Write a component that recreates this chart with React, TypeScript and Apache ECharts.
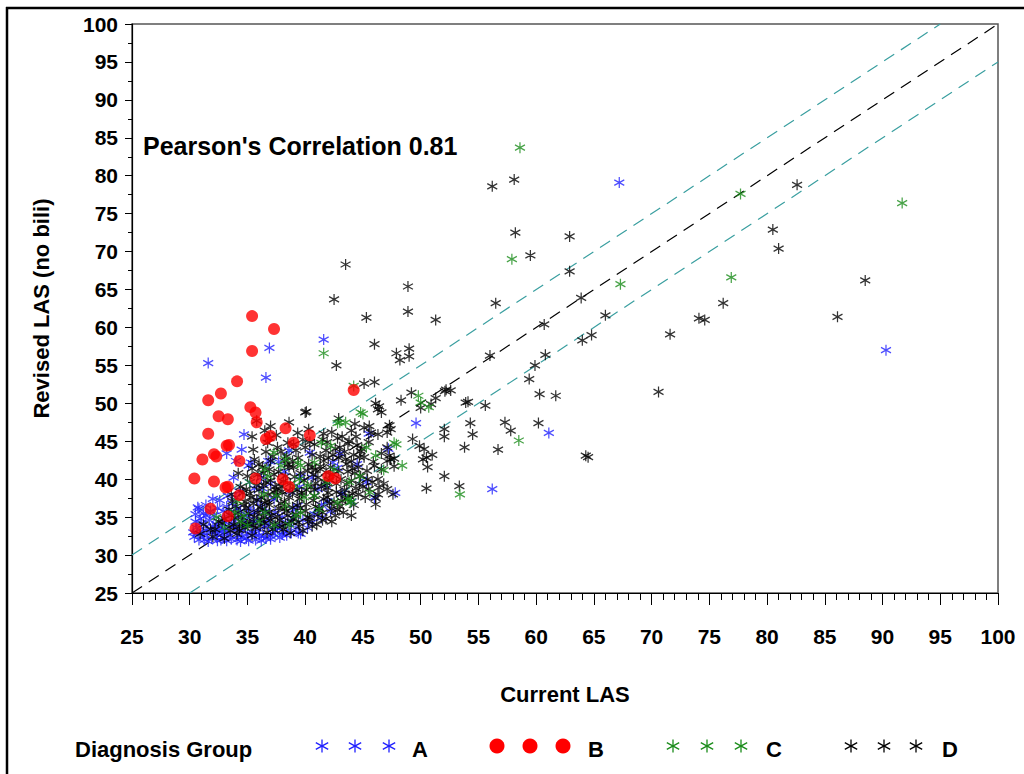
import React, { useEffect, useRef } from 'react';
import * as echarts from 'echarts';

const groupNames = ['A', 'B', 'C', 'D'];
const groupColors = ['#1f1fff', '#ff0000', '#1a8c1a', '#000000'];
const legendTitle = 'Diagnosis Group';
const xTitle = 'Current LAS';
const yTitle = 'Revised LAS (no bili)';
const pearson = 0.81;

const refDiag = [[25, 25], [100, 100]];
const refUpper = [[25, 30], [95, 100]];
const refLower = [[30, 25], [100, 95]];

const groupA: number[][] = [
  [31.6, 55.3], [36.9, 57.3], [36.6, 53.4], [41.6, 58.4], [67.2, 79.1], [90.3, 57.0], [61.1, 46.1], [56.2, 38.7],
  [49.6, 47.4], [45.5, 46.0], [34.7, 45.9], [34.5, 43.9], [33.2, 43.4], [40.4, 43.5], [36.8, 42.4], [37.7, 42.3],
  [44.5, 42.0], [42.8, 41.5], [41.8, 39.2], [40.6, 40.2], [39.5, 39.0], [43.2, 38.1], [39.0, 36.0], [41.4, 36.6],
  [38.2, 41.0], [36.2, 40.2], [35.6, 38.8], [37.3, 37.4], [30.8, 36.1], [31.4, 36.6], [32.6, 37.2], [34.0, 37.6],
  [33.2, 36.4], [35.2, 36.2], [36.6, 35.8], [38.0, 35.0], [39.8, 34.6], [40.8, 35.4], [42.2, 35.8], [44.0, 37.0],
  [45.3, 39.6], [47.8, 38.2], [46.0, 37.6], [47.2, 44.0], [43.0, 43.4], [38.6, 43.8], [35.1, 41.8], [33.8, 40.2],
  [34.0, 42.4], [35.3, 42.2], [37.0, 42.4], [42.4, 42.2], [41.9, 37.1], [39.35, 36.5], [39.6, 40.4], [41.1, 38.7],
  [30.7, 36.3], [32.0, 37.4], [33.3, 37.8],
  [30.4, 32.4], [30.8, 32.0], [31.2, 32.6], [31.5, 33.2], [31.9, 32.2], [32.3, 32.8], [32.6, 33.6], [32.9, 32.4],
  [33.3, 33.0], [33.6, 32.1], [33.9, 33.8], [34.2, 32.6], [34.6, 33.3], [34.9, 32.2], [35.3, 34.0], [35.6, 32.8],
  [36.0, 33.4], [36.4, 32.5], [36.8, 33.9], [37.2, 32.9], [37.6, 33.5], [38.0, 32.7], [30.6, 33.6], [31.0, 34.2],
  [31.7, 34.6], [32.1, 35.2], [32.8, 34.6], [33.4, 35.4], [34.0, 34.8], [34.4, 35.8], [35.0, 35.2], [35.8, 34.6],
  [36.2, 36.4], [36.9, 34.8], [37.4, 35.6], [38.5, 34.2], [39.2, 33.6], [30.3, 33.0], [31.3, 32.0], [32.0, 33.8],
  [33.0, 33.4], [34.8, 34.0], [35.4, 33.0], [36.6, 32.2], [37.8, 32.3], [38.8, 33.0], [39.6, 32.8], [40.2, 33.6],
  [31.8, 35.8], [33.7, 36.8], [35.9, 37.2], [34.3, 38.4], [36.3, 38.8], [35.2, 39.6], [37.0, 39.4], [38.7, 38.4],
  [33.2, 31.9], [34.4, 31.8], [35.7, 32.0], [32.4, 31.9], [30.9, 34.8], [31.6, 31.8], [32.7, 32.0], [34.1, 32.0],
  [35.1, 31.9], [36.2, 31.9], [37.0, 32.1], [31.1, 33.0], [32.4, 33.2], [33.6, 34.2], [34.6, 34.6], [35.6, 35.6],
  [36.4, 34.4], [37.8, 34.0], [38.4, 32.6], [30.5, 34.4], [31.4, 35.2], [32.9, 35.8], [34.1, 36.2],
  [30.7, 32.9], [31.4, 33.8], [31.9, 33.0], [32.3, 34.0], [32.8, 33.1], [33.1, 34.3], [33.5, 32.6], [34.0, 33.4],
  [34.5, 32.3], [35.0, 32.9], [35.5, 34.4], [36.0, 32.6], [36.5, 33.7], [37.0, 32.5], [37.4, 33.2], [38.2, 33.1],
  [38.9, 34.9], [39.4, 32.9], [40.6, 34.3], [41.4, 34.9], [31.2, 35.5], [32.4, 36.2], [30.5, 35.4]
];

const groupB: number[][] = [
  [35.4, 61.5], [37.3, 59.8], [35.4, 56.9], [34.1, 52.9], [32.7, 51.3], [31.6, 50.4], [35.25, 49.5], [35.7, 48.8],
  [32.5, 48.3], [33.3, 47.9], [35.8, 47.5], [31.6, 46.0], [33.2, 44.4], [33.4, 44.5], [32.1, 43.3], [32.3, 43.0],
  [31.1, 42.6], [34.3, 42.4], [30.4, 40.1], [32.1, 39.7], [33.1, 38.9], [33.3, 39.0], [34.3, 37.9], [31.8, 36.1],
  [33.3, 35.1], [30.5, 33.5], [36.6, 45.3], [37.0, 45.7], [38.3, 46.7], [40.4, 45.8], [39.0, 44.8], [35.7, 40.1],
  [38.05, 40.0], [38.6, 39.0], [42.0, 40.4], [42.6, 40.1], [44.2, 51.75]
];

const groupC: number[][] = [
  [58.6, 83.7], [57.9, 69.0], [67.3, 65.7], [77.7, 77.6], [76.9, 66.6], [91.7, 76.4], [58.5, 45.1], [53.4, 38.0],
  [44.2, 52.3], [44.8, 48.8], [45.0, 48.6], [48.4, 41.8], [47.9, 44.6], [43.9, 36.9], [41.6, 56.6], [49.8, 51.0],
  [50.0, 50.1], [50.7, 49.5], [43.5, 47.5], [42.8, 47.4], [37.3, 43.5], [36.5, 41.3], [38.3, 42.6], [39.6, 41.8],
  [39.5, 40.0], [39.05, 39.1], [40.8, 42.2], [41.4, 44.8], [42.2, 44.4], [43.0, 47.5], [44.7, 40.4], [43.8, 39.6],
  [44.0, 37.1], [42.8, 36.9], [40.8, 37.8], [39.6, 35.6], [38.3, 36.5], [47.7, 44.8], [46.1, 43.1], [45.6, 38.25],
  [41.9, 39.6], [42.5, 41.3], [36.5, 35.6], [34.7, 35.2], [33.9, 35.6], [37.3, 33.9], [35.0, 33.9], [35.2, 39.6],
  [36.75, 40.4], [37.9, 41.75], [39.35, 42.2], [39.2, 35.2], [32.3, 35.0], [34.15, 37.1], [37.5, 37.8], [39.9, 37.6],
  [43.7, 37.4], [36.0, 34.4], [38.6, 34.0], [41.2, 36.0], [46.8, 41.2], [45.3, 44.2], [33.0, 33.6], [34.4, 34.4],
  [36.4, 38.0], [40.2, 39.2]
];

const groupD: number[][] = [
  [56.2, 78.6], [58.1, 79.5], [58.2, 72.5], [62.9, 72.0], [59.5, 69.5], [62.9, 67.4], [56.5, 63.2], [63.9, 63.9],
  [66.0, 61.6], [60.7, 60.4], [64.8, 59.0], [64.0, 58.3], [56.0, 56.3], [60.8, 56.4], [59.9, 55.0], [59.4, 53.2],
  [60.3, 51.2], [61.7, 51.0], [70.6, 51.5], [71.6, 59.1], [74.1, 61.2], [74.6, 61.0], [76.2, 63.2], [80.5, 72.9],
  [81.0, 70.4], [82.6, 78.8], [86.1, 61.4], [88.5, 66.2], [64.5, 42.9], [64.3, 43.1],
  [43.5, 68.3], [42.5, 63.7], [48.9, 65.4], [48.9, 62.1], [45.3, 61.3], [51.3, 61.0], [46.0, 57.8], [47.9, 56.6],
  [48.2, 55.7], [49.0, 57.2], [49.0, 56.2], [42.7, 55.0],
  [54.1, 50.2], [55.6, 49.7], [52.6, 51.7], [52.1, 51.6], [51.3, 50.7], [54.3, 47.4], [57.3, 47.5], [60.2, 47.4],
  [49.2, 51.4], [50.9, 49.9], [50.0, 49.4], [53.9, 50.1], [52.2, 51.8], [54.5, 45.9], [53.8, 44.2], [53.35, 39.1],
  [56.7, 43.9], [52.05, 46.6], [52.05, 45.6], [52.05, 40.4], [50.5, 38.8], [57.8, 46.4],
  [45.1, 52.6], [46.0, 52.8], [40.1, 48.9], [38.6, 47.5], [42.9, 48.0], [46.1, 50.0], [46.4, 49.6], [46.6, 48.8],
  [46.3, 49.2], [45.1, 46.8], [45.7, 46.15], [46.3, 45.9], [45.55, 47.0], [47.3, 47.1], [47.4, 46.6], [47.1, 46.15],
  [47.1, 44.2], [47.3, 43.1], [47.4, 42.6], [47.1, 42.4], [49.3, 45.3], [48.3, 50.4], [49.9, 44.4], [50.3, 43.95],
  [50.5, 42.85], [50.2, 42.6], [51.0, 43.2],
  [45.35, 41.1], [45.4, 40.0], [44.8, 40.4], [46.3, 40.0], [45.5, 38.7], [46.1, 37.5], [46.1, 36.7], [46.3, 38.0],
  [47.1, 38.7], [47.6, 38.0], [46.4, 38.9], [44.8, 43.7], [45.1, 42.9], [46.0, 41.75], [46.6, 41.3], [47.7, 42.7],
  [35.8, 47.7], [40.0, 48.8], [39.35, 46.1], [37.5, 45.8], [36.75, 44.8],
  [33.8, 34.0], [34.5, 35.0], [35.2, 34.4], [35.9, 35.6], [36.5, 34.2], [37.1, 35.2], [37.8, 34.6], [38.4, 35.8],
  [39.0, 34.8], [39.6, 36.2], [40.2, 35.0], [40.9, 36.4], [41.5, 35.6], [42.1, 36.8], [42.8, 36.0], [43.5, 37.4],
  [44.2, 36.6], [34.0, 36.4], [34.8, 37.0], [35.5, 36.8], [36.2, 37.6], [36.9, 36.6], [37.6, 37.8], [38.2, 37.0],
  [38.9, 38.2], [39.5, 37.4], [40.1, 38.6], [40.8, 37.8], [41.4, 39.0], [42.0, 38.2], [42.7, 39.4], [43.4, 38.6],
  [44.0, 39.8], [44.6, 38.0], [34.4, 39.0], [35.0, 40.4], [35.8, 39.2], [36.4, 40.8], [37.0, 39.8], [37.7, 41.0],
  [38.3, 40.4], [39.0, 41.6], [39.6, 40.8], [40.3, 42.0], [40.9, 41.2], [41.6, 42.4], [42.2, 41.6], [42.9, 42.8],
  [43.6, 42.0], [44.2, 43.2], [43.0, 44.2], [41.8, 43.8], [40.6, 43.2], [39.4, 42.8], [38.2, 42.4], [37.2, 43.0],
  [36.0, 42.0], [35.4, 41.4], [34.2, 40.8], [33.6, 38.0], [33.4, 36.0], [32.2, 33.4], [32.8, 34.2], [33.5, 33.2],
  [34.1, 32.8], [34.8, 33.6], [35.4, 32.6], [36.1, 33.8], [36.7, 33.0], [37.4, 34.0], [38.1, 33.4], [38.8, 34.4],
  [39.5, 33.8], [40.3, 34.4], [41.0, 34.0], [41.8, 34.8], [42.6, 35.2], [43.3, 35.6], [44.5, 44.5], [43.2, 45.6],
  [41.5, 45.2], [42.3, 46.2], [40.3, 46.6], [44.0, 46.4], [43.8, 45.0],
  [34.2, 35.6], [34.9, 36.2], [35.6, 35.0], [36.3, 36.0], [37.0, 34.6], [37.7, 36.2], [38.5, 35.2], [39.3, 36.6],
  [40.0, 35.8], [40.7, 37.2], [41.2, 36.2], [41.9, 37.6], [42.5, 37.0], [43.1, 38.0], [43.8, 37.8], [44.4, 38.8],
  [34.6, 38.2], [35.3, 37.6], [36.0, 38.6], [36.8, 38.0], [37.4, 39.0], [38.0, 38.4], [38.7, 39.4], [39.3, 38.6],
  [39.9, 39.8], [40.5, 39.0], [41.1, 40.2], [41.7, 39.6], [42.4, 40.6], [43.1, 40.0], [43.7, 41.0], [44.3, 40.8],
  [35.6, 42.6], [36.3, 41.6], [37.0, 42.4], [37.9, 43.6], [38.6, 41.6], [39.2, 43.8], [40.0, 44.2], [40.6, 41.6],
  [41.3, 43.0], [42.0, 42.8], [42.6, 44.0], [43.4, 43.6], [44.0, 42.4], [44.6, 41.6], [33.0, 34.8], [33.6, 35.2],
  [32.5, 34.4], [31.8, 33.4], [31.2, 34.0], [30.9, 32.8], [32.0, 32.4], [33.0, 32.2], [34.3, 33.8], [35.0, 34.0],
  [35.7, 33.6], [36.4, 35.0], [37.2, 33.4], [38.0, 33.8], [38.7, 32.9], [39.8, 33.2], [40.6, 33.8], [41.5, 34.6],
  [42.3, 34.4], [43.0, 36.4], [36.6, 39.6], [37.3, 40.6], [38.4, 43.0], [39.8, 45.2], [40.8, 44.6], [41.6, 46.0],
  [42.8, 45.4], [44.4, 45.6], [44.9, 44.0], [45.2, 37.6], [44.0, 35.2], [38.5, 44.8], [37.0, 47.0], [36.5, 46.4],
  [35.4, 45.6], [50.6, 41.6],
  [33.4, 33.7], [33.9, 34.9], [34.3, 33.3], [34.7, 36.6], [35.1, 35.5], [35.5, 33.9], [35.8, 37.3], [36.2, 34.7],
  [36.5, 36.9], [36.9, 35.7], [37.3, 38.3], [37.6, 35.1], [37.9, 36.8], [38.3, 34.1], [38.6, 37.6], [38.9, 36.3],
  [39.2, 35.4], [39.7, 37.9], [40.1, 36.7], [40.4, 34.9], [40.8, 38.6], [41.1, 35.3], [41.6, 37.4], [41.9, 38.9],
  [42.3, 36.1], [42.7, 38.3], [43.2, 37.1], [43.6, 39.3], [44.1, 38.1], [44.7, 39.4], [35.2, 38.1], [35.9, 40.6],
  [36.4, 39.2], [36.9, 41.3], [37.5, 38.6], [38.1, 39.7], [38.5, 41.9], [39.1, 40.3], [39.7, 38.2], [40.2, 41.1],
  [40.7, 40.6], [41.3, 41.7], [41.8, 40.9], [42.4, 43.2], [42.9, 41.1], [43.5, 42.6], [44.1, 41.4], [44.7, 42.9],
  [45.0, 39.0], [45.8, 39.6], [34.6, 34.2], [36.7, 37.1], [38.2, 36.1], [39.4, 34.3], [37.9, 39.1], [36.1, 36.3],
  [34.9, 38.7], [33.7, 37.1], [40.9, 39.5], [42.1, 39.9], [39.0, 44.6], [40.4, 44.9], [41.9, 44.9], [43.7, 44.7],
  [38.9, 42.4], [37.6, 44.2], [36.6, 43.6], [35.5, 43.9], [36.9, 45.4], [44.3, 47.3], [45.5, 44.9], [46.6, 43.4],
  [45.9, 42.3], [46.8, 39.4], [47.7, 41.7]
];

const asteriskPath = 'path://M0,-10L0,10M-8.66,-5L8.66,5M-8.66,5L8.66,-5';
const FONT = "'Liberation Sans', Arial, sans-serif";

function legendStar(cx: number, cy: number, color: string) {
  const h = 6.5;
  const dx = 6.2;
  const dy = 3.4;
  const st = { stroke: color, lineWidth: 1.3 };
  return {
    type: 'group',
    children: [
      { type: 'line', shape: { x1: cx, y1: cy - h, x2: cx, y2: cy + h }, style: st },
      { type: 'line', shape: { x1: cx - dx, y1: cy - dy, x2: cx + dx, y2: cy + dy }, style: st },
      { type: 'line', shape: { x1: cx - dx, y1: cy + dy, x2: cx + dx, y2: cy - dy }, style: st }
    ]
  };
}

function buildOption() {
  const legendSymbolX = [[322, 355, 389], [497, 530, 563], [673, 707, 741], [851, 884, 916]];
  const legendLabelX = [412, 588, 766, 942];
  const legendY = 746;
  const graphics: any[] = [
    { type: 'line', shape: { x1: 6, y1: 8, x2: 1024, y2: 8 }, style: { stroke: '#000', lineWidth: 2.5 } },
    { type: 'line', shape: { x1: 7, y1: 7, x2: 7, y2: 774 }, style: { stroke: '#000', lineWidth: 2.5 } },
    {
      type: 'text', x: 143, y: 146,
      style: { text: "Pearson's Correlation " + pearson.toFixed(2), font: `bold 25px ${FONT}`, fill: '#000', verticalAlign: 'middle', align: 'left' }
    },
    {
      type: 'text', x: 75, y: 749,
      style: { text: legendTitle, font: `bold 22px ${FONT}`, fill: '#000', verticalAlign: 'middle', align: 'left' }
    }
  ];
  groupNames.forEach((g, i) => {
    legendSymbolX[i].forEach((cx) => {
      if (g === 'B') {
        graphics.push({ type: 'circle', shape: { cx, cy: legendY, r: 7.5 }, style: { fill: groupColors[i] } });
      } else {
        graphics.push(legendStar(cx, legendY, groupColors[i]));
      }
    });
    graphics.push({
      type: 'text', x: legendLabelX[i], y: 749,
      style: { text: g, font: `bold 22px ${FONT}`, fill: '#000', verticalAlign: 'middle', align: 'left' }
    });
  });

  const starSeries = (name: string, data: number[][], color: string, z: number) => ({
    name, type: 'scatter', data,
    symbol: asteriskPath, symbolSize: [10, 11],
    itemStyle: { color: 'rgba(0,0,0,0)', borderColor: color, borderWidth: 1.3 },
    emphasis: { disabled: true }, silent: true, z
  });

  const refLine = (data: number[][], color: string) => ({
    type: 'line', data, showSymbol: false, symbol: 'none', silent: true, z: 2,
    lineStyle: { color, width: 1.2, type: [12, 8] }
  });

  return {
    animation: false,
    backgroundColor: '#fff',
    grid: { left: 132, right: 26, top: 24, bottom: 181, show: true, borderColor: '#555', borderWidth: 1.5 },
    xAxis: {
      type: 'value', min: 25, max: 100, interval: 5,
      name: xTitle, nameLocation: 'middle', nameGap: 90,
      nameTextStyle: { fontSize: 22, fontWeight: 'bold', color: '#000', fontFamily: FONT },
      axisLine: { show: true, onZero: false, lineStyle: { color: '#000', width: 1.2 } },
      axisTick: { show: true, length: 12, lineStyle: { color: '#000', width: 1 } },
      minorTick: { show: true, splitNumber: 5, length: 7, lineStyle: { color: '#000', width: 1 } },
      axisLabel: { fontSize: 21, fontWeight: 'bold', color: '#000', fontFamily: FONT, margin: 33 },
      splitLine: { show: false }
    },
    yAxis: {
      type: 'value', min: 25, max: 100, interval: 5,
      name: yTitle, nameLocation: 'middle', nameGap: 80, nameRotate: 90,
      nameTextStyle: { fontSize: 22, fontWeight: 'bold', color: '#000', fontFamily: FONT },
      axisLine: { show: true, onZero: false, lineStyle: { color: '#000', width: 1.2 } },
      axisTick: { show: true, length: 7, lineStyle: { color: '#000', width: 1 } },
      minorTick: { show: true, splitNumber: 2, length: 4, lineStyle: { color: '#000', width: 1 } },
      axisLabel: { fontSize: 21, fontWeight: 'bold', color: '#000', fontFamily: FONT, margin: 14 },
      splitLine: { show: false }
    },
    series: [
      refLine(refUpper, '#3a9fa0'),
      refLine(refLower, '#3a9fa0'),
      refLine(refDiag, '#000'),
      starSeries('A', groupA, groupColors[0], 3),
      starSeries('D', groupD, groupColors[3], 3),
      starSeries('C', groupC, groupColors[2], 3),
      {
        name: 'B', type: 'scatter', data: groupB, symbol: 'circle', symbolSize: 12,
        itemStyle: { color: groupColors[1] }, emphasis: { disabled: true }, silent: true, z: 4
      }
    ],
    graphic: graphics
  };
}

export default function App() {
  const ref = useRef<HTMLDivElement>(null);
  useEffect(() => {
    const chart = echarts.init(ref.current!, null, { renderer: 'svg' });
    chart.setOption(buildOption() as any);
    return () => chart.dispose();
  }, []);
  return (
    <div
      ref={ref}
      style={{ position: 'absolute', left: 0, top: 0, width: 1024, height: 774, background: '#fff' }}
    />
  );
}
